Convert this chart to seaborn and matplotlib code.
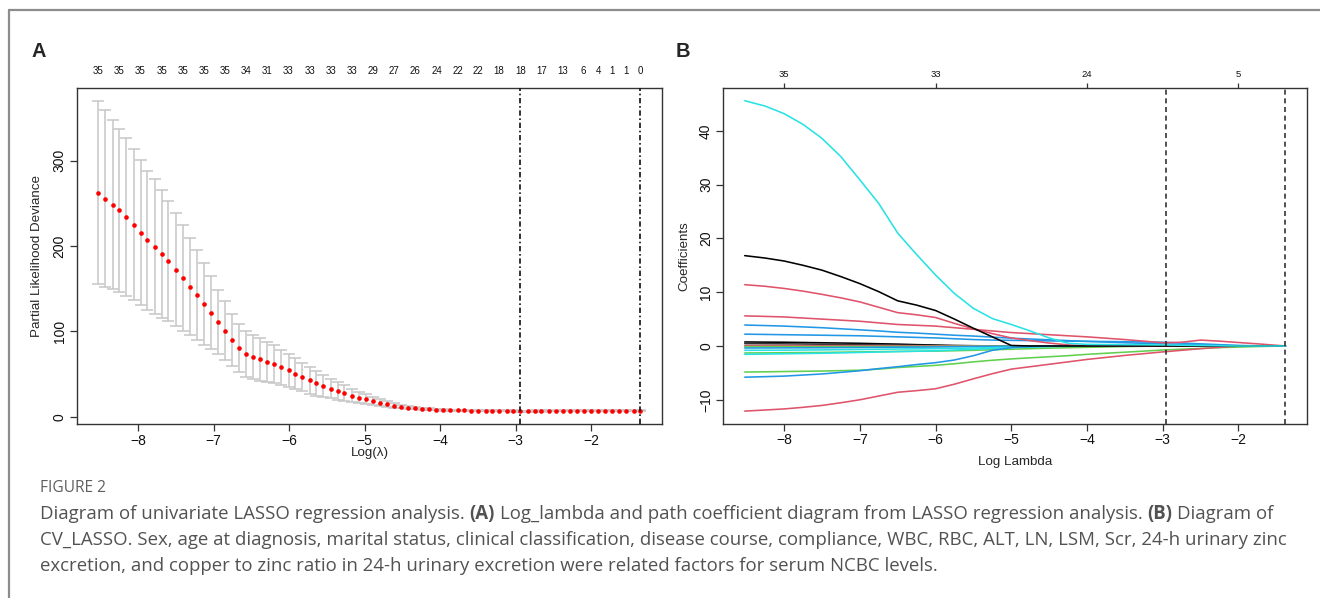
import numpy as np
import pandas as pd
import matplotlib
matplotlib.use("Agg")
import matplotlib.pyplot as plt
from matplotlib.lines import Line2D
import seaborn as sns

sns.set_style("ticks")
plt.rcParams['font.family'] = ['Liberation Sans', 'DejaVu Sans']

# ---------------- Panel A data (cross-validated partial likelihood deviance) ----------------
cv_loglambda = [-8.53, -8.44, -8.34, -8.25, -8.16, -8.06, -7.97, -7.88, -7.78, -7.69,
                -7.60, -7.50, -7.41, -7.32, -7.22, -7.13, -7.04, -6.94, -6.85, -6.76,
                -6.67, -6.57, -6.48, -6.39, -6.29, -6.20, -6.11, -6.01, -5.92, -5.83,
                -5.73, -5.64, -5.55, -5.45, -5.36, -5.27, -5.17, -5.08, -4.99, -4.89,
                -4.80, -4.71, -4.61, -4.52, -4.43, -4.33, -4.24, -4.15, -4.05, -3.96,
                -3.87, -3.77, -3.68, -3.59, -3.50, -3.40, -3.31, -3.22, -3.12, -3.03,
                -2.94, -2.84, -2.75, -2.66, -2.56, -2.47, -2.38, -2.28, -2.19, -2.10,
                -2.00, -1.91, -1.82, -1.72, -1.63, -1.54, -1.44, -1.35]
cv_mean = [262.6, 255.6, 248.6, 241.6, 234.2, 224.9, 215.6, 206.6, 199.2, 191.0,
           182.5, 172.4, 162.6, 152.5, 142.4, 132.3, 121.8, 111.3, 100.8, 89.9,
           80.5, 73.9, 70.0, 67.3, 64.6, 61.5, 58.0, 54.5, 50.6, 46.7,
           42.8, 39.3, 36.2, 33.1, 30.4, 27.6, 24.9, 22.6, 20.6, 18.7,
           16.7, 14.8, 13.2, 12.1, 10.9, 10.1, 9.4, 8.9, 8.5, 8.2,
           7.9, 7.7, 7.5, 7.3, 7.2, 7.1, 7.0, 6.95, 6.9, 6.85,
           6.8, 6.82, 6.85, 6.87, 6.9, 6.92, 6.95, 6.97, 7.0, 7.02,
           7.05, 7.07, 7.1, 7.12, 7.15, 7.17, 7.2, 7.2]
cv_sd = [107.5, 103.2, 99.3, 95.8, 92.5, 88.4, 84.7, 81.6, 78.7, 75.0,
         70.6, 66.4, 61.8, 57.2, 52.9, 48.3, 42.8, 37.8, 34.3, 30.8,
         28.0, 27.2, 26.2, 25.2, 23.6, 22.3, 20.8, 19.6, 18.2, 16.9,
         15.6, 14.4, 12.9, 11.6, 10.3, 9.3, 8.0, 6.8, 5.9, 5.1,
         4.2, 3.4, 2.7, 2.2, 1.7, 1.4, 1.2, 1.0, 0.9, 0.8,
         0.7, 0.7, 0.7, 0.7, 0.7, 0.6, 0.6, 0.6, 0.6, 0.6,
         0.6, 0.6, 0.6, 0.6, 0.6, 0.5, 0.5, 0.5, 0.5, 0.5,
         0.5, 0.5, 0.5, 0.5, 0.5, 0.5, 0.5, 0.5]
# number of non-zero coefficients shown on the top axis (at selected lambda positions)
cv_top_index = [0, 3, 6, 9, 12, 15, 18, 21, 24, 27, 30, 33, 36, 39, 42, 45, 48, 51, 54, 57,
                60, 63, 66, 69, 71, 73, 75, 77]
cv_top_labels = ['35', '35', '35', '35', '35', '35', '35', '34', '31', '33', '33', '33', '33',
                 '29', '27', '26', '24', '22', '22', '18', '18', '17', '13', '6', '4', '1', '1', '0']
cv_lambda_min = -2.94
cv_lambda_1se = -1.35

# ---------------- Panel B data (coefficient paths) ----------------
path_loglambda = [-8.52, -8.25, -8.0, -7.75, -7.5, -7.25, -7.0, -6.75, -6.5, -6.25, -6.0,
                  -5.75, -5.5, -5.25, -5.0, -4.75, -4.5, -4.25, -4.0, -3.5, -3.0, -2.75,
                  -2.5, -2.25, -2.0, -1.7, -1.38]
coef_cyan_big = [45.6, 44.6, 43.2, 41.2, 38.6, 35.2, 30.9, 26.5, 21.0, 17.0, 13.2,
                 9.75, 7.0, 5.1, 4.0, 2.8, 1.5, 0.5, 0.3, 0.25, 0.2, 0.15,
                 0.1, 0.05, 0.0, 0.0, 0.0]
coef_black_big = [16.8, 16.35, 15.8, 15.0, 14.1, 12.9, 11.6, 10.1, 8.4, 7.6, 6.6,
                  5.0, 3.3, 1.7, 0.1, 0, 0, 0, 0, 0, 0, 0,
                  0, 0, 0, 0, 0]
coef_red_a = [11.4, 11.1, 10.7, 10.2, 9.6, 8.95, 8.2, 7.2, 6.2, 5.8, 5.3,
              4.2, 3.2, 2.3, 1.5, 1.0, 0.55, 0.2, 0, 0, 0, 0,
              0, 0, 0, 0, 0]
coef_red_b = [5.6, 5.5, 5.4, 5.2, 5.0, 4.8, 4.6, 4.3, 4.0, 3.85, 3.7,
              3.4, 3.1, 2.8, 2.5, 2.3, 2.1, 1.9, 1.7, 1.2, 0.6, 0.7,
              1.1, 0.9, 0.65, 0.35, 0]
coef_blue_a = [3.9, 3.8, 3.7, 3.55, 3.4, 3.2, 3.0, 2.8, 2.55, 2.4, 2.2,
               2.0, 1.85, 1.65, 1.45, 1.3, 1.15, 1.0, 0.85, 0.6, 0.4, 0.3,
               0.2, 0.1, 0.05, 0, 0]
coef_blue_b = [2.2, 2.15, 2.1, 2.05, 2.0, 1.95, 1.9, 1.8, 1.7, 1.6, 1.5,
               1.35, 1.2, 1.1, 1.05, 1.0, 0.95, 0.9, 0.87, 0.8, 0.7, 0.55,
               0.4, 0.25, 0.1, 0.03, 0]
coef_black_s1 = [0.75, 0.72, 0.7, 0.65, 0.6, 0.55, 0.5, 0.42, 0.35, 0.25, 0.18,
                 0.1, 0.05, 0.02, 0, 0, 0, 0, 0, 0, 0, 0,
                 0, 0, 0, 0, 0]
coef_black_s2 = [0.44, 0.42, 0.4, 0.37, 0.33, 0.29, 0.25, 0.2, 0.15, 0.1, 0.05,
                 0, 0, 0, 0, 0, 0, 0, 0, 0, 0, 0,
                 0, 0, 0, 0, 0]
coef_red_s = [0.07, 0.07, 0.07, 0.065, 0.06, 0.06, 0.06, 0.05, 0.05, 0.04, 0.04,
              0.03, 0.03, 0.02, 0.02, 0.01, 0.01, 0.01, 0, 0, 0, 0,
              0, 0, 0, 0, 0]
coef_green_s1 = [-0.12, -0.12, -0.12, -0.115, -0.11, -0.105, -0.1, -0.1, -0.09, -0.09, -0.08,
                 -0.07, -0.06, -0.05, -0.05, -0.04, -0.03, -0.03, -0.02, -0.01, 0, 0,
                 0, 0, 0, 0, 0]
coef_blue_s = [-0.37, -0.36, -0.35, -0.34, -0.32, -0.3, -0.28, -0.25, -0.22, -0.2, -0.17,
               -0.14, -0.1, -0.07, -0.04, -0.02, 0, 0, 0, 0, 0, 0,
               0, 0, 0, 0, 0]
coef_cyan_s1 = [-0.8, -0.79, -0.78, -0.75, -0.72, -0.68, -0.65, -0.6, -0.56, -0.53, -0.5,
                -0.44, -0.37, -0.3, -0.25, -0.18, -0.11, -0.05, 0, 0, 0, 0,
                0, 0, 0, 0, 0]
coef_green_s2 = [-1.3, -1.28, -1.25, -1.22, -1.2, -1.15, -1.1, -1.05, -1.0, -0.97, -0.95,
                 -0.88, -0.8, -0.7, -0.6, -0.5, -0.4, -0.32, -0.25, -0.1, 0, 0,
                 0, 0, 0, 0, 0]
coef_cyan_s2 = [-1.55, -1.5, -1.45, -1.4, -1.35, -1.28, -1.2, -1.12, -1.05, -0.97, -0.9,
                -0.75, -0.6, -0.45, -0.3, -0.2, -0.1, -0.05, 0, 0, 0, 0,
                0, 0, 0, 0, 0]
coef_green = [-4.84, -4.8, -4.75, -4.7, -4.65, -4.58, -4.5, -4.3, -4.0, -3.8, -3.6,
              -3.3, -2.95, -2.65, -2.4, -2.2, -2.0, -1.8, -1.55, -1.15, -0.75, -0.6,
              -0.45, -0.3, -0.2, -0.08, 0]
coef_blue_c = [-5.8, -5.7, -5.6, -5.4, -5.2, -4.9, -4.6, -4.2, -3.85, -3.45, -3.1,
               -2.6, -1.8, -0.8, -0.3, -0.1, 0, 0, 0, 0, 0, 0,
               0, 0, 0, 0, 0]
coef_red_c = [-12.1, -11.9, -11.7, -11.4, -11.05, -10.55, -10.0, -9.3, -8.6, -8.3, -7.95,
              -7.1, -6.1, -5.15, -4.3, -3.85, -3.4, -2.95, -2.5, -1.75, -1.1, -0.8,
              -0.5, -0.25, 0.0, 0, 0]
path_top_ticks = [-8, -6, -4, -2]
path_top_labels = ['35', '33', '24', '5']
path_lambda_min = -2.95
path_lambda_1se = -1.38

R_BLACK, R_RED, R_GREEN, R_BLUE, R_CYAN = '#000000', '#DF536B', '#61D04F', '#2297E6', '#28E2E5'
series = [
    ('black_s1', coef_black_s1, R_BLACK), ('black_s2', coef_black_s2, '#333333'),
    ('red_s', coef_red_s, R_RED), ('green_s1', coef_green_s1, R_GREEN),
    ('blue_s', coef_blue_s, R_BLUE), ('cyan_s1', coef_cyan_s1, R_CYAN),
    ('green_s2', coef_green_s2, R_GREEN), ('cyan_s2', coef_cyan_s2, R_CYAN),
    ('green', coef_green, R_GREEN), ('blue_c', coef_blue_c, R_BLUE),
    ('red_c', coef_red_c, R_RED), ('blue_b', coef_blue_b, R_BLUE),
    ('blue_a', coef_blue_a, R_BLUE), ('red_b', coef_red_b, R_RED),
    ('red_a', coef_red_a, R_RED), ('black_big', coef_black_big, R_BLACK),
    ('cyan_big', coef_cyan_big, R_CYAN),
]

W, H = 1320, 598
fig = plt.figure(figsize=(13.2, 5.98), dpi=100)
fig.patch.set_facecolor('white')

axA = fig.add_axes([76.6 / W, 1 - 424 / H, (662 - 76.6) / W, (424 - 88.3) / H])
axB = fig.add_axes([723.1 / W, 1 - 423.5 / H, (1307 - 723.1) / W, (423.5 - 88.3) / H])

TICK_FS = 10
LABEL_FS = 9.6
AX_COLOR = '#333333'

def style_axes(ax):
    for s in ax.spines.values():
        s.set_visible(True)
        s.set_color(AX_COLOR)
        s.set_linewidth(1.0)
    ax.tick_params(axis='both', direction='out', length=5, width=0.9, color=AX_COLOR,
                   labelsize=TICK_FS, labelcolor='#111111', pad=2.2)
    ax.set_facecolor('white')

# ---------------- Panel A ----------------
dfA = pd.DataFrame({'loglam': cv_loglambda, 'cvm': cv_mean, 'cvsd': cv_sd})
axA.errorbar(dfA['loglam'], dfA['cvm'], yerr=dfA['cvsd'], fmt='none', ecolor='#c6c6c6',
             elinewidth=1.1, capsize=4, capthick=1.1, zorder=2)
sns.scatterplot(data=dfA, x='loglam', y='cvm', ax=axA, color='#ff0000', s=11,
                linewidth=0, zorder=3, legend=False)
for v in (cv_lambda_min, cv_lambda_1se):
    axA.axvline(v, color='#111111', lw=1.2, linestyle=(0, (3.2, 1.6, 1.0, 1.6)), zorder=4)

xr = np.array(cv_loglambda)
lo = np.array(cv_mean) - np.array(cv_sd)
hi = np.array(cv_mean) + np.array(cv_sd)
pad_x = 0.04 * (xr.max() - xr.min())
pad_y = 0.04 * (hi.max() - lo.min())
axA.set_xlim(xr.min() - pad_x, xr.max() + pad_x)
axA.set_ylim(lo.min() - pad_y, hi.max() + pad_y)
style_axes(axA)
axA.set_xticks([-8, -7, -6, -5, -4, -3, -2])
axA.set_yticks([0, 100, 200, 300])
for tl in axA.get_yticklabels():
    tl.set_rotation(90)
    tl.set_va('center')
axA.set_xlabel('Log(λ)', fontsize=LABEL_FS)
axA.set_ylabel('Partial Likelihood Deviance', fontsize=LABEL_FS)
axA.xaxis.set_label_coords((370 - 76.6) / (662 - 76.6), -(453 - 424) / (424 - 88.3))
axA.xaxis.label.set_va('center')
axA.yaxis.set_label_coords((37 - 76.6) / (662 - 76.6), 0.5)
axA.yaxis.label.set_va('center')

secA = axA.secondary_xaxis('top')
secA.set_xticks([cv_loglambda[i] for i in cv_top_index], cv_top_labels)
secA.tick_params(length=0, pad=8.5, labelsize=7, labelcolor='#111111')
secA.spines['top'].set_visible(False)

# ---------------- Panel B ----------------
rows = []
for name, vals, col in series:
    for x, y in zip(path_loglambda, vals):
        rows.append({'loglam': x, 'coef': y, 'var': name})
dfB = pd.DataFrame(rows)
palette = {name: col for name, vals, col in series}
sns.lineplot(data=dfB, x='loglam', y='coef', hue='var', palette=palette, ax=axB,
             legend=False, estimator=None, sort=False, linewidth=1.15)
for v in (path_lambda_min, path_lambda_1se):
    axB.axvline(v, color='#333333', lw=1.2, linestyle=(0, (3.0, 2.2)), zorder=4)

px = np.array(path_loglambda)
allc = np.concatenate([np.array(v) for _, v, _ in series])
pbx = 0.04 * (px.max() - px.min())
pby = 0.04 * (allc.max() - allc.min())
axB.set_xlim(px.min() - pbx, px.max() + pbx)
axB.set_ylim(allc.min() - pby, allc.max() + pby)
style_axes(axB)
axB.set_xticks([-8, -7, -6, -5, -4, -3, -2])
axB.set_yticks([-10, 0, 10, 20, 30, 40])
for tl in axB.get_yticklabels():
    tl.set_rotation(90)
    tl.set_va('center')
axB.set_xlabel('Log Lambda', fontsize=LABEL_FS)
axB.set_ylabel('Coefficients', fontsize=LABEL_FS)
axB.xaxis.set_label_coords((1015 - 723.1) / (1307 - 723.1), -(462 - 423.5) / (423.5 - 88.3))
axB.xaxis.label.set_va('center')
axB.yaxis.set_label_coords((684 - 723.1) / (1307 - 723.1), 0.5)
axB.yaxis.label.set_va('center')

secB = axB.secondary_xaxis('top')
secB.set_xticks(path_top_ticks, path_top_labels)
secB.tick_params(length=3.5, width=0.9, color=AX_COLOR, pad=3.5, labelsize=6.8,
                 labelcolor='#111111')
secB.spines['top'].set_visible(False)

# ---------------- panel letters and frame ----------------
fig.text(38.3 / W, 1 - 51.2 / H, 'A', fontsize=14.4, fontweight='bold', ha='center', va='center')
fig.text(683 / W, 1 - 51.2 / H, 'B', fontsize=14.4, fontweight='bold', ha='center', va='center')

FRAME = '#8c8c8c'
fig.add_artist(Line2D([9 / W, 9 / W], [0, 1 - 10 / H], color=FRAME, lw=1.6))
fig.add_artist(Line2D([9 / W, 1], [1 - 10 / H, 1 - 10 / H], color=FRAME, lw=1.6))

# ---------------- caption ----------------
CAP_FONT = ['Open Sans', 'DejaVu Sans']
CAP_FS = 13.45
CAP_COLOR = '#525252'
fig.text(40 / W, 1 - 488 / H, 'FIGURE 2', fontsize=11.2, color='#5e5e5e',
         family=CAP_FONT, ha='left', va='center')

renderer = fig.canvas.get_renderer()

def text_width(s, weight):
    t = fig.text(0, 0, s, fontsize=CAP_FS, family=CAP_FONT, fontweight=weight)
    w = t.get_window_extent(renderer).width
    t.remove()
    return w

space_w = text_width('a a', 'normal') - text_width('aa', 'normal')

def draw_runs(x0, y0, runs):
    x = x0
    for s, weight in runs:
        core = s.strip(' ')
        lead = len(s) - len(s.lstrip(' '))
        trail = len(s) - len(s.rstrip(' '))
        x += lead * space_w
        t = fig.text(x / W, 1 - y0 / H, core, fontsize=CAP_FS, family=CAP_FONT,
                     fontweight=weight, color=CAP_COLOR, ha='left', va='center')
        x += t.get_window_extent(renderer).width + trail * space_w

draw_runs(40, 514, [('Diagram of univariate LASSO regression analysis. ', 'normal'), ('(A)', 'bold'),
                    (' Log_lambda and path coefficient diagram from LASSO regression analysis. ', 'normal'),
                    ('(B)', 'bold'), (' Diagram of', 'normal')])
draw_runs(40, 540, [('CV_LASSO. Sex, age at diagnosis, marital status, clinical classification, disease course, '
                     'compliance, WBC, RBC, ALT, LN, LSM, Scr, 24-h urinary zinc', 'normal')])
draw_runs(40, 566, [('excretion, and copper to zinc ratio in 24-h urinary excretion were related factors '
                     'for serum NCBC levels.', 'normal')])

fig.savefig('out.png', dpi=100, facecolor='white')
